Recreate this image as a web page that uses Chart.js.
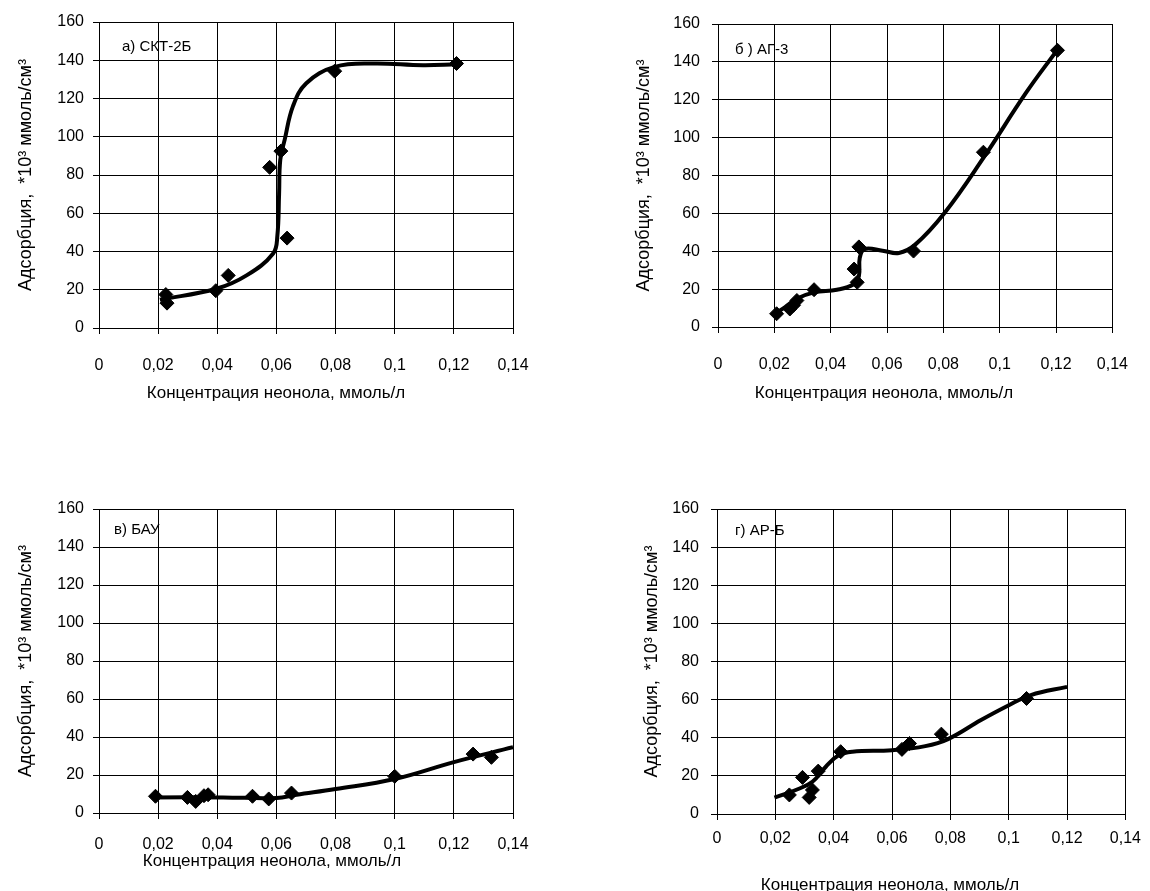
<!DOCTYPE html>
<html lang="ru">
<head>
<meta charset="utf-8">
<title>Адсорбция неонола</title>
<script src="https://cdn.jsdelivr.net/npm/chart.js"></script>
<style>
    body { margin: 0; background: #fff; width: 1150px; height: 891px; position: relative; overflow: hidden; }
    .panel { position: absolute; }
</style>
</head>
<body>
<div class="panel" style="left:0;top:0"><canvas id="chartA" width="575" height="445"></canvas></div>
<div class="panel" style="left:575px;top:0"><canvas id="chartB" width="575" height="445"></canvas></div>
<div class="panel" style="left:0;top:445px"><canvas id="chartV" width="575" height="446"></canvas></div>
<div class="panel" style="left:575px;top:445px"><canvas id="chartG" width="575" height="456"></canvas></div>

<script>
// shared axes
const xTickLabels = ['0', '0,02', '0,04', '0,06', '0,08', '0,1', '0,12', '0,14'];
const xTitle = 'Концентрация неонола, ммоль/л';
const yTitle = 'Адсорбция,  *10³ ммоль/см³';

// а) СКТ-2Б
const aPointsX = [0.0226, 0.023, 0.0395, 0.0437, 0.0577, 0.0615, 0.0636, 0.0797, 0.1209];
const aPointsY = [17.5, 13, 19.5, 27.5, 84, 92.5, 47, 134.3, 138.3];
const aCurveX = [0.0206, 0.0397, 0.0499, 0.0589, 0.0603, 0.0609, 0.0613, 0.0628, 0.0656, 0.0701, 0.0797, 0.0927, 0.1096, 0.1209];
const aCurveY = [14.8, 20.5, 27.5, 39, 48, 70, 88, 98.5, 116, 128, 136.5, 138.3, 137.4, 137.9];

// б) АГ-3
const bPointsX = [0.0208, 0.0255, 0.0268, 0.028, 0.0341, 0.0483, 0.0494, 0.05, 0.0694, 0.0942, 0.1205];
const bPointsY = [7, 9.5, 11.5, 14, 19.7, 30.6, 23.6, 42.3, 40.1, 92.3, 146.1];
const bCurveX = [0.0197, 0.0237, 0.0283, 0.0341, 0.0422, 0.048, 0.05, 0.0503, 0.052, 0.0584, 0.0642, 0.07, 0.0804, 0.0942, 0.1093, 0.1203];
const bCurveY = [6.5, 10.4, 15.1, 18.3, 19.7, 22.4, 26.8, 36.4, 41.2, 40.3, 39.1, 43.5, 60.2, 89.3, 123.6, 146.1];

// в) БАУ
const vPointsX = [0.0191, 0.0299, 0.0327, 0.0355, 0.0369, 0.0519, 0.0574, 0.0651, 0.1, 0.1265, 0.1327];
const vPointsY = [8.8, 8.2, 6.1, 9.1, 9.6, 8.8, 7.4, 10.5, 19.3, 31, 29.3];
const vCurveX = [0.0183, 0.042, 0.06, 0.0668, 0.08, 0.1, 0.12, 0.14];
const vCurveY = [8.2, 8.2, 7.9, 9.6, 12.6, 17.9, 26.8, 34.6];

// г) АР-Б
const gPointsX = [0.0248, 0.0293, 0.0316, 0.0327, 0.0347, 0.0424, 0.0634, 0.066, 0.0769, 0.1061];
const gPointsY = [10, 19.2, 8.7, 12.6, 22.5, 32.7, 33.9, 37, 41.9, 60.6];
const gCurveX = [0.0197, 0.027, 0.0327, 0.0373, 0.0418, 0.0464, 0.06, 0.0714, 0.0792, 0.0905, 0.0997, 0.1076, 0.12];
const gCurveY = [8.6, 12.6, 16.9, 24.8, 30.9, 32.7, 33.5, 35.6, 39.3, 49.3, 56.8, 62.4, 66.7];

const FONT = '"Liberation Sans", Arial, sans-serif';

function toXY(xs, ys) {
    return xs.map((x, i) => ({ x: x, y: ys[i] }));
}

// caption inside the plot area + the x title (Excel puts it off-centre)
const panelText = {
    id: 'panelText',
    afterDraw(chart, args, opts) {
        const { ctx, chartArea } = chart;
        ctx.save();
        ctx.fillStyle = '#000';
        ctx.textBaseline = 'middle';
        ctx.font = '15px ' + FONT;
        ctx.textAlign = 'left';
        ctx.fillText(opts.text, chartArea.left + opts.dx, chartArea.top + opts.dy);
        ctx.font = '17px ' + FONT;
        ctx.textAlign = 'center';
        ctx.fillText(xTitle, opts.tx, opts.ty);
        ctx.restore();
    }
};

function makeChart(id, text, px, py, cx, cy, lay) {
    const ctx = document.getElementById(id).getContext('2d');
    return new Chart(ctx, {
        type: 'scatter',
        data: {
            datasets: [{
                data: toXY(cx, cy),
                showLine: true,
                borderColor: '#000',
                borderWidth: 4,
                pointRadius: 0,
                tension: 0.4,
                fill: false
            }, {
                data: toXY(px, py),
                showLine: false,
                pointStyle: 'rectRot',
                pointRadius: 7,
                pointBackgroundColor: '#000',
                pointBorderColor: '#000',
                pointBorderWidth: 1
            }]
        },
        options: {
            responsive: false,
            animation: false,
            events: [],
            layout: { padding: lay.padding },
            scales: {
                x: {
                    type: 'linear',
                    min: 0,
                    max: 0.14,
                    afterBuildTicks: (s) => { s.ticks = xTickLabels.map((t, i) => ({ value: i * 0.02 })); },
                    afterFit: (s) => { s.height = lay.xH; },
                    grid: { color: '#000', lineWidth: 1, tickLength: 6, tickColor: '#000' },
                    border: { color: '#000', width: 1 },
                    ticks: {
                        color: '#000',
                        font: { family: FONT, size: 16 },
                        padding: lay.xPad,
                        maxRotation: 0,
                        autoSkip: false,
                        callback: (v, i) => xTickLabels[i]
                    }
                },
                y: {
                    min: 0,
                    max: 160,
                    afterFit: (s) => { s.width = lay.yW; },
                    grid: { color: '#000', lineWidth: 1, tickLength: 6, tickColor: '#000' },
                    border: { color: '#000', width: 1 },
                    ticks: { stepSize: 20, color: '#000', font: { family: FONT, size: 16 }, padding: lay.yPad },
                    title: { display: true, text: yTitle, color: '#000', font: { family: FONT, size: 18 }, padding: { top: lay.yTitlePad, bottom: 0 } }
                }
            },
            plugins: {
                legend: { display: false },
                tooltip: { enabled: false },
                panelText: { text: text, dx: lay.lx, dy: lay.ly, tx: lay.tx, ty: lay.ty }
            }
        },
        plugins: [panelText]
    });
}

makeChart('chartA', 'а) СКТ-2Б', aPointsX, aPointsY, aCurveX, aCurveY,
    { padding: { left: 0, top: 22, right: 62, bottom: 44 }, xH: 73, xPad: 22, yW: 99, yPad: 9, yTitlePad: 15, lx: 23, ly: 25, tx: 276, ty: 393 });
makeChart('chartB', 'б ) АГ-3', bPointsX, bPointsY, bCurveX, bCurveY,
    { padding: { left: 0, top: 24, right: 28, bottom: 45 }, xH: 73, xPad: 22, yW: 143, yPad: 12, yTitlePad: 58, lx: 17, ly: 26, tx: 309, ty: 393 });
makeChart('chartV', 'в) БАУ', vPointsX, vPointsY, vCurveX, vCurveY,
    { padding: { left: 0, top: 64, right: 62, bottom: 18 }, xH: 60, xPad: 16, yW: 99, yPad: 9, yTitlePad: 15, lx: 15, ly: 21, tx: 272, ty: 416 });
makeChart('chartG', 'г) АР-Б', gPointsX, gPointsY, gCurveX, gCurveY,
    { padding: { left: 0, top: 64, right: 22, bottom: 0 }, xH: 87, xPad: 9, yW: 142, yPad: 12, yTitlePad: 66, lx: 18, ly: 22, tx: 315, ty: 440 });
</script>
</body>
</html>
